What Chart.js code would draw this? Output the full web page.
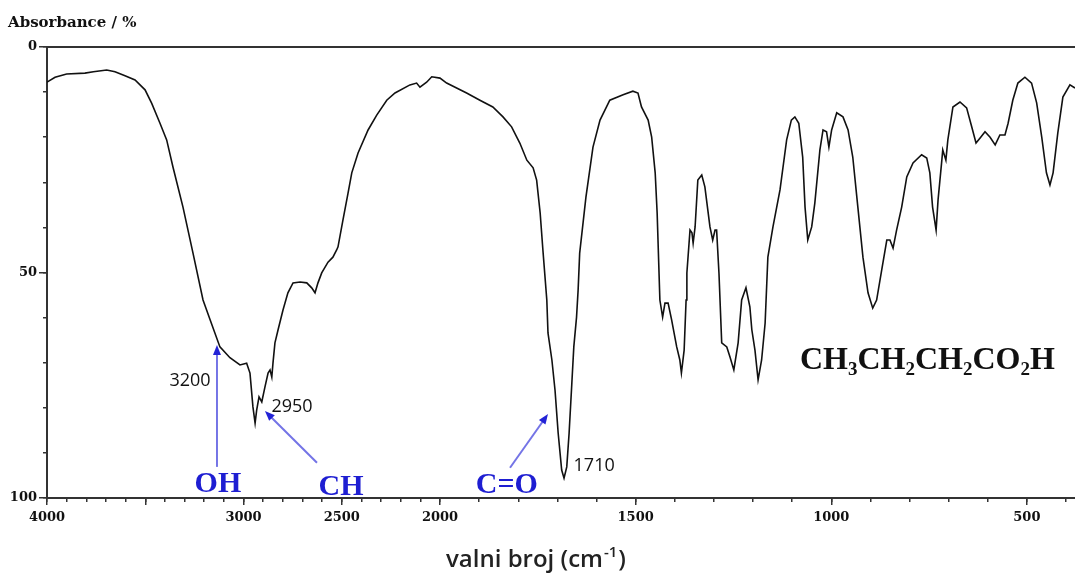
<!DOCTYPE html>
<html>
<head>
<meta charset="utf-8">
<script src="https://cdn.jsdelivr.net/npm/chart.js@4.4.1/dist/chart.umd.min.js"></script>
<style>
  html, body { margin: 0; padding: 0; background: #fff; }
  #wrap { width: 1075px; height: 573px; position: relative; }
</style>
</head>
<body>
<div id="wrap"><canvas id="irChart"></canvas></div>
<script>
// IR spektar maslacne kiseline, ocitano sa slike
const wavenumber = [
  4000, 3959, 3900, 3807, 3764, 3696, 3654, 3603, 3552, 3501,
  3467, 3425, 3391, 3359, 3308, 3257, 3206, 3170, 3120, 3069,
  3018, 2984, 2967, 2952, 2941, 2933, 2921, 2907, 2891, 2875,
  2865, 2856, 2850, 2840, 2824, 2799, 2774, 2748, 2712, 2678,
  2653, 2636, 2621, 2602, 2570, 2545, 2526, 2519, 2494, 2468,
  2449, 2417, 2366, 2322, 2271, 2229, 2153, 2119, 2102, 2068,
  2042, 2000, 1983, 1932, 1898, 1865, 1839, 1817, 1796, 1778,
  1762, 1753, 1744, 1737, 1727, 1724, 1714, 1706, 1698, 1689,
  1683, 1676, 1670, 1663, 1658, 1651, 1647, 1643, 1627, 1609,
  1591, 1566, 1532, 1507, 1494, 1485, 1468, 1459, 1450, 1445,
  1438, 1431, 1425, 1417, 1408, 1395, 1387, 1383, 1376, 1371,
  1369, 1361, 1356, 1353, 1348, 1341, 1331, 1323, 1310, 1303,
  1297, 1293, 1287, 1280, 1267, 1259, 1249, 1238, 1229, 1218,
  1208, 1203, 1195, 1187, 1178, 1169, 1162, 1149, 1131, 1114,
  1102, 1093, 1083, 1073, 1067, 1060, 1050, 1042, 1029, 1021,
  1012, 1006, 999, 986, 970, 957, 945, 932, 919, 906,
  894, 884, 871, 858, 850, 842, 833, 820, 807, 791,
  769, 756, 748, 741, 732, 727, 718, 715, 707, 702,
  689, 671, 654, 641, 630, 618, 607, 594, 581, 569,
  556, 548, 536, 523, 505, 488, 475, 462, 450, 441,
  433, 421, 408, 390, 377
];
const absorbance = [
  7.8, 6.7, 6.0, 5.8, 5.5, 5.1, 5.5, 6.4, 7.3, 9.5,
  12.5, 16.9, 20.6, 26.6, 35.5, 45.7, 56.1, 60.5, 66.5, 68.9,
  70.5, 70.1, 72.3, 79.8, 83.4, 80.5, 77.6, 78.7, 75.4, 72.3,
  71.6, 73.2, 70.1, 65.6, 62.7, 58.3, 54.5, 52.3, 52.1, 52.3,
  53.4, 54.5, 52.3, 50.1, 47.7, 46.6, 45.0, 44.3, 38.4, 32.4,
  27.9, 23.5, 18.4, 15.1, 11.8, 10.2, 8.4, 8.0, 8.9, 7.8,
  6.6, 6.9, 8.0, 10.2, 11.8, 13.3, 15.5, 17.7, 21.3, 25.1,
  26.8, 29.5, 36.8, 45.0, 56.1, 63.4, 69.4, 76.1, 85.6, 93.8,
  95.6, 93.1, 85.6, 74.5, 66.5, 59.9, 53.9, 45.7, 33.3, 22.2,
  16.2, 11.8, 10.6, 9.8, 10.2, 13.3, 16.2, 20.0, 27.9, 36.8,
  56.1, 59.9, 56.8, 56.8, 60.5, 66.5, 69.4, 72.3, 67.2, 56.1,
  50.1, 40.6, 41.2, 43.5, 39.9, 29.5, 28.4, 31.0, 39.9, 42.8,
  40.6, 40.6, 50.1, 65.6, 66.5, 68.7, 71.6, 65.6, 56.1, 53.4,
  57.6, 62.7, 67.2, 73.8, 69.4, 61.2, 46.6, 39.9, 31.7, 20.6,
  16.2, 15.5, 16.9, 24.4, 35.5, 42.8, 39.9, 34.6, 22.8, 18.4,
  18.8, 22.2, 18.4, 14.6, 15.5, 18.4, 24.4, 35.5, 46.6, 54.5,
  57.9, 56.1, 49.4, 42.8, 42.8, 44.6, 40.6, 35.5, 28.8, 25.7,
  23.9, 24.6, 27.9, 35.5, 40.6, 33.9, 25.7, 22.8, 25.1, 20.6,
  13.3, 12.2, 13.5, 17.7, 21.3, 20.0, 18.8, 20.0, 21.7, 19.5,
  19.5, 16.9, 11.8, 8.0, 6.7, 8.0, 12.4, 20.0, 27.9, 30.6,
  27.9, 19.1, 11.1, 8.4, 9.1
];

const xMajorTicks = [4000, 3500, 3000, 2500, 2000, 1500, 1000, 500];
const xLabeled = [4000, 3000, 2500, 2000, 1500, 1000, 500];
const yMajorTicks = [0, 50, 100];
const xMin = 377, xMax = 4000;

const xMinorTicks = [];
for (let v = 4000; v >= 400; v -= 100) xMinorTicks.push(v);
const yMinorTicks = [];
for (let v = 0; v <= 100; v += 10) yMinorTicks.push(v);

// os x: iznad 2000 cm-1 upola sabijena skala
const BREAK = 2000;
const BREAK_FRAC = 393 / 1028;

class SplitScale extends Chart.LinearScale {
  getPixelForValue(value) {
    if (value === null || value === undefined) return NaN;
    let f;
    if (value >= BREAK) f = (this.max - value) / (this.max - BREAK) * BREAK_FRAC;
    else f = BREAK_FRAC + (BREAK - value) / (BREAK - this.min) * (1 - BREAK_FRAC);
    return this.getPixelForDecimal(f);
  }
  getValueForPixel(pixel) {
    const f = this.getDecimalForPixel(pixel);
    if (f <= BREAK_FRAC) return this.max - f / BREAK_FRAC * (this.max - BREAK);
    return BREAK - (f - BREAK_FRAC) / (1 - BREAK_FRAC) * (BREAK - this.min);
  }
}
SplitScale.id = 'split';
SplitScale.defaults = Chart.LinearScale.defaults;
Chart.register(SplitScale);

const tickFont = { family: '"DejaVu Serif"', size: 13, weight: 'bold' };
const axisColor = '#333';

function arrow(ctx, x1, y1, x2, y2) {
  const ang = Math.atan2(y2 - y1, x2 - x1);
  ctx.strokeStyle = '#7474e6';
  ctx.lineWidth = 2;
  ctx.beginPath();
  ctx.moveTo(x1, y1);
  ctx.lineTo(x2 - 6 * Math.cos(ang), y2 - 6 * Math.sin(ang));
  ctx.stroke();
  ctx.fillStyle = '#2323d6';
  ctx.beginPath();
  ctx.moveTo(x2, y2);
  ctx.lineTo(x2 - 10 * Math.cos(ang) + 4 * Math.sin(ang), y2 - 10 * Math.sin(ang) - 4 * Math.cos(ang));
  ctx.lineTo(x2 - 10 * Math.cos(ang) - 4 * Math.sin(ang), y2 - 10 * Math.sin(ang) + 4 * Math.cos(ang));
  ctx.closePath();
  ctx.fill();
}

const labelsPlugin = {
  id: 'irLabels',
  afterDraw(chart) {
    const ctx = chart.ctx;
    const xs = chart.scales.x, ys = chart.scales.y;
    const px = v => xs.getPixelForValue(v);
    const py = v => ys.getPixelForValue(v);
    ctx.save();

    ctx.fillStyle = '#111';
    ctx.font = 'bold 15px "DejaVu Serif"';
    ctx.textAlign = 'left';
    ctx.textBaseline = 'alphabetic';
    ctx.fillText('Absorbance / %', 8, 27);

    // naslov osi x s eksponentom
    const main = 'valni broj (cm', sup = '-1', end = ')';
    ctx.font = '600 24px "Open Sans"';
    const w1 = ctx.measureText(main).width, w3 = ctx.measureText(end).width;
    ctx.font = '600 15px "Open Sans"';
    const w2 = ctx.measureText(sup).width;
    let tx = 535 - (w1 + w2 + w3) / 2;
    ctx.fillStyle = '#222';
    ctx.font = '600 24px "Open Sans"';
    ctx.fillText(main, tx, 567);
    ctx.font = '600 15px "Open Sans"';
    ctx.fillText(sup, tx + w1 + 1, 557);
    ctx.font = '600 24px "Open Sans"';
    ctx.fillText(end, tx + w1 + w2 + 2, 567);

    // brojevi vrhova
    ctx.fillStyle = '#111';
    ctx.font = '500 18px "Open Sans"';
    ctx.textAlign = 'center';
    ctx.textBaseline = 'middle';
    ctx.fillText('3200', px(3272), py(74.1));
    ctx.fillText('2950', px(2753), py(79.8));
    ctx.fillText('1710', px(1606), py(92.9));

    // strelice
    arrow(ctx, px(3135), py(93.1), px(3135), py(66.1));
    arrow(ctx, px(2626), py(92.2), px(2891), py(80.7));
    arrow(ctx, px(1821), py(93.3), px(1724), py(81.4));

    ctx.fillStyle = '#1e1ed2';
    ctx.font = 'bold 30px "Liberation Serif"';
    ctx.textBaseline = 'alphabetic';
    ctx.fillText('OH', px(3130), py(98.7));
    ctx.fillText('CH', px(2504), py(99.3));
    ctx.fillText('C=O', px(1829), py(98.9));

    // formula
    const parts = [['CH', 0], ['3', 1], ['CH', 0], ['2', 1], ['CH', 0], ['2', 1], ['CO', 0], ['2', 1], ['H', 0]];
    let fx = px(1080);
    const fy = py(71.4);
    ctx.fillStyle = '#111';
    ctx.textAlign = 'left';
    parts.forEach(([t, s]) => {
      ctx.font = s ? 'bold 19px "Liberation Serif"' : 'bold 32px "Liberation Serif"';
      ctx.fillText(t, fx, s ? fy + 6 : fy);
      fx += ctx.measureText(t).width;
    });

    ctx.restore();
  }
};

const ctx = document.getElementById('irChart');
new Chart(ctx, {
  type: 'line',
  data: {
    datasets: [{
      data: wavenumber.map((w, i) => ({ x: w, y: absorbance[i] })),
      borderColor: '#111',
      borderWidth: 1.6,
      pointRadius: 0,
      fill: false,
      tension: 0,
      xAxisID: 'x',
      yAxisID: 'y'
    }]
  },
  options: {
    responsive: true,
    maintainAspectRatio: false,
    animation: false,
    layout: { padding: { top: 47, right: 0, left: 0, bottom: 0 } },
    scales: {
      x: {
        type: 'split', position: 'bottom', min: xMin, max: xMax, weight: 0,
        afterBuildTicks: s => { s.ticks = xMinorTicks.map(v => ({ value: v })); },
        afterFit: s => { s.height = 0; },
        ticks: { display: false, autoSkip: false },
        grid: { drawOnChartArea: false, tickLength: 4, color: axisColor, lineWidth: 1.5 },
        border: { display: true, color: axisColor, width: 2 }
      },
      xMajor: {
        type: 'split', position: 'bottom', min: xMin, max: xMax, weight: 1,
        afterBuildTicks: s => { s.ticks = xMajorTicks.map(v => ({ value: v })); },
        afterFit: s => { s.height = 75; },
        ticks: {
          autoSkip: false, maxRotation: 0, padding: 5, color: '#111', font: tickFont,
          callback: v => xLabeled.includes(v) ? String(v) : ''
        },
        grid: { drawOnChartArea: false, tickLength: 7, color: axisColor, lineWidth: 1.5 },
        border: { display: false }
      },
      xTop: {
        type: 'linear', position: 'top', min: 0, max: 1,
        afterFit: s => { s.height = 0; },
        ticks: { display: false },
        grid: { display: false },
        border: { display: true, color: axisColor, width: 2 }
      },
      y: {
        type: 'linear', position: 'left', min: 0, max: 100, reverse: true, weight: 0,
        afterBuildTicks: s => { s.ticks = yMinorTicks.map(v => ({ value: v })); },
        afterFit: s => { s.width = 0; },
        ticks: { display: false },
        grid: { drawOnChartArea: false, tickLength: 4, color: axisColor, lineWidth: 1.5 },
        border: { display: true, color: axisColor, width: 2 }
      },
      yMajor: {
        type: 'linear', position: 'left', min: 0, max: 100, reverse: true, weight: 1,
        afterBuildTicks: s => { s.ticks = yMajorTicks.map(v => ({ value: v })); },
        afterFit: s => { s.width = 47; },
        ticks: { autoSkip: false, padding: 2, color: '#111', font: tickFont },
        grid: { drawOnChartArea: false, tickLength: 8, color: axisColor, lineWidth: 1.5 },
        border: { display: false }
      }
    },
    plugins: {
      legend: { display: false },
      tooltip: { enabled: false }
    }
  },
  plugins: [labelsPlugin]
});
</script>
</body>
</html>
